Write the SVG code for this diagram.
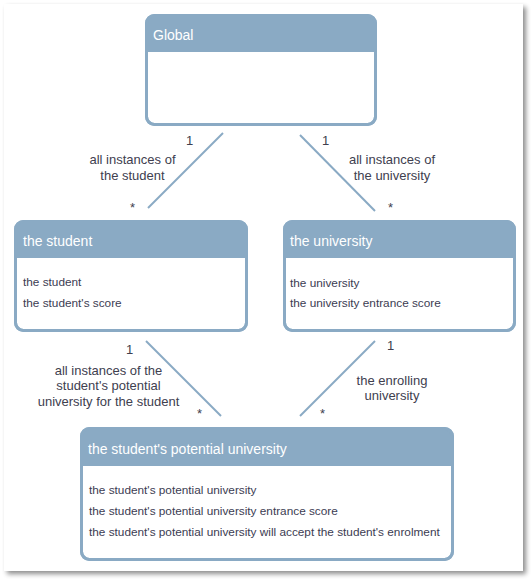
<svg xmlns="http://www.w3.org/2000/svg" width="532" height="581" viewBox="0 0 532 581">
<defs>
<filter id="shadow" x="-5%" y="-5%" width="110%" height="110%">
<feGaussianBlur in="SourceAlpha" stdDeviation="2.5"/>
<feOffset dx="3" dy="3" result="b"/>
<feComponentTransfer><feFuncA type="linear" slope="0.45"/></feComponentTransfer>
<feMerge><feMergeNode/><feMergeNode in="SourceGraphic"/></feMerge>
</filter>
<style>
.box{fill:#ffffff;stroke:#8aaac4;stroke-width:3}
.hdr{fill:#8aaac4}
.title{font-family:"Liberation Sans",Arial,sans-serif;font-size:14px;fill:#ffffff}
.item{font-family:"Liberation Sans",Arial,sans-serif;font-size:11.8px;fill:#3c3c52}
.lbl{font-family:"Liberation Sans",Arial,sans-serif;font-size:13px;fill:#40404f}
.mid{text-anchor:middle}
.conn{stroke:#8aaac4;stroke-width:2;fill:none}
</style>
</defs>
<rect x="0" y="0" width="532" height="581" fill="#ffffff"/>
<rect x="4" y="4" width="519" height="567" fill="#ffffff" filter="url(#shadow)"/>

<g id="connectors">
<line class="conn" x1="223" y1="133" x2="148" y2="208"/>
<line class="conn" x1="300" y1="135" x2="375" y2="211"/>
<line class="conn" x1="146" y1="341" x2="221" y2="416"/>
<line class="conn" x1="375" y1="341" x2="300" y2="416"/>
<text class="lbl" x="186" y="145">1</text>
<text class="lbl mid" x="132.5" y="164">all instances of</text>
<text class="lbl mid" x="132.5" y="180">the student</text>
<text class="lbl" x="130" y="212">*</text>
<text class="lbl" x="322" y="145">1</text>
<text class="lbl mid" x="392" y="164">all instances of</text>
<text class="lbl mid" x="392" y="180">the university</text>
<text class="lbl" x="388" y="212">*</text>
<text class="lbl" x="126" y="354">1</text>
<text class="lbl mid" x="108.5" y="374.5">all instances of the</text>
<text class="lbl mid" x="108.5" y="390">student's potential</text>
<text class="lbl mid" x="108.5" y="405.5">university for the student</text>
<text class="lbl" x="197" y="418">*</text>
<text class="lbl" x="387" y="350">1</text>
<text class="lbl mid" x="392" y="384.5">the enrolling</text>
<text class="lbl mid" x="392" y="400">university</text>
<text class="lbl" x="320" y="418">*</text>
</g>

<g id="node-global">
<rect class="box" x="146.5" y="15.5" width="229" height="109" rx="8"/>
<path class="hdr" d="M146.5,52 V23.5 A8,8 0 0 1 154.5,15.5 H367.5 A8,8 0 0 1 375.5,23.5 V52 Z"/>
<rect x="146.5" y="15.5" width="229" height="109" rx="8" fill="none" stroke="#8aaac4" stroke-width="3"/>
<text class="title" x="153" y="39.5">Global</text>
</g>

<g id="node-student">
<rect class="box" x="15.5" y="221.5" width="231" height="109" rx="8"/>
<path class="hdr" d="M15.5,258 V229.5 A8,8 0 0 1 23.5,221.5 H238.5 A8,8 0 0 1 246.5,229.5 V258 Z"/>
<rect x="15.5" y="221.5" width="231" height="109" rx="8" fill="none" stroke="#8aaac4" stroke-width="3"/>
<text class="title" x="23" y="245.5">the student</text>
<text class="item" x="23" y="286">the student</text>
<text class="item" x="23" y="306.5">the student's score</text>
</g>

<g id="node-university">
<rect class="box" x="284.5" y="221.5" width="230" height="109" rx="8"/>
<path class="hdr" d="M284.5,258 V229.5 A8,8 0 0 1 292.5,221.5 H506.5 A8,8 0 0 1 514.5,229.5 V258 Z"/>
<rect x="284.5" y="221.5" width="230" height="109" rx="8" fill="none" stroke="#8aaac4" stroke-width="3"/>
<text class="title" x="290" y="245.5">the university</text>
<text class="item" x="290" y="286.5">the university</text>
<text class="item" x="290" y="307">the university entrance score</text>
</g>

<g id="node-potential">
<rect class="box" x="81.5" y="428.5" width="371" height="131" rx="8"/>
<path class="hdr" d="M81.5,466 V436.5 A8,8 0 0 1 89.5,428.5 H444.5 A8,8 0 0 1 452.5,436.5 V466 Z"/>
<rect x="81.5" y="428.5" width="371" height="131" rx="8" fill="none" stroke="#8aaac4" stroke-width="3"/>
<text class="title" x="88" y="453.5">the student's potential university</text>
<text class="item" x="89" y="494">the student's potential university</text>
<text class="item" x="89" y="514.5">the student's potential university entrance score</text>
<text class="item" x="89" y="535.5">the student's potential university will accept the student's enrolment</text>
</g>
</svg>
